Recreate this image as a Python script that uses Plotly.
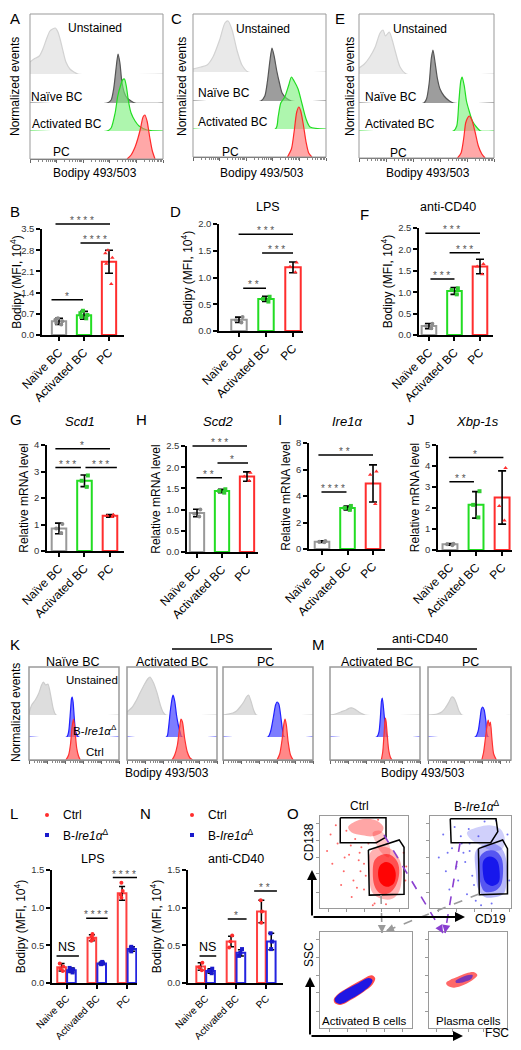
import math
import plotly.graph_objects as go

# The page body keeps its default 8 px margin, so the figure is sized to fit inside the window
# and every reference pixel position is converted with that offset.
OFF = 8
W, H = 521 - 2 * OFF, 1050 - 2 * OFF
FONT = "Liberation Sans, Arial, sans-serif"

CATS = ["Naïve BC", "Activated BC", "PC"]
CATS_LN = ["Naive BC", "Activated BC", "PC"]

# ---------------- A / C / E : flow histograms (x = log10 Bodipy, y = normalized events) -------------
A_UNST = ([0, 0.15, 0.35, 0.5, 0.62, 0.75, 0.85, 0.95, 1.05, 1.15, 1.25, 1.35, 1.5, 1.65, 1.8, 5],
          [12, 15, 18, 26, 35, 43, 45, 46, 42, 33, 22, 12, 5, 2, 0, 0])
A_NAIVE = ([0, 2.9, 3.05, 3.15, 3.25, 3.31, 3.38, 3.45, 3.55, 3.65, 3.8, 3.95, 5],
           [0, 0, 3, 15, 38, 49, 40, 22, 10, 5, 2, 0, 0])
A_ACT = ([0, 2.9, 3.05, 3.2, 3.3, 3.4, 3.48, 3.55, 3.62, 3.7, 3.8, 3.95, 4.1, 4.4, 5],
         [0, 0, 3, 18, 35, 45, 51, 52, 45, 30, 18, 10, 5, 1, 0])
A_PC = ([3.65, 3.8, 3.95, 4.05, 4.15, 4.25, 4.32, 4.4, 4.5, 4.6, 4.7],
        [0, 4, 12, 20, 30, 42, 44, 38, 22, 8, 0])

C_UNST = ([0, 0.3, 0.53, 0.75, 1.0, 1.2, 1.32, 1.47, 1.65, 1.84, 2.07, 5],
          [3, 5, 7, 15, 32, 49, 51, 42, 22, 7, 0, 0])
C_NAIVE = ([0, 2.55, 2.7, 2.8, 2.9, 2.97, 3.05, 3.15, 3.25, 3.35, 3.5, 3.7, 5],
           [0, 0, 5, 20, 42, 53, 45, 30, 18, 8, 3, 0, 0])
C_ACT = ([0, 3.1, 3.2, 3.3, 3.45, 3.6, 3.7, 3.8, 3.95, 4.1, 4.25, 4.4, 5],
         [0, 0, 12, 26, 32, 44, 52, 48, 40, 25, 10, 2, 0])
C_PC = ([3.55, 3.7, 3.8, 3.9, 3.98, 4.05, 4.15, 4.25, 4.35, 4.47],
        [0, 8, 25, 45, 50, 46, 32, 15, 4, 0])

E_UNST = ([0, 0.2, 0.4, 0.6, 0.78, 0.89, 0.98, 1.12, 1.22, 1.33, 1.52, 1.75, 5],
          [6, 10, 17, 27, 41, 44, 38, 42, 35, 24, 7, 0, 0])
E_NAIVE = ([0, 2.4, 2.5, 2.6, 2.68, 2.74, 2.82, 2.9, 3.0, 3.15, 3.35, 3.5, 5],
           [0, 0, 4, 20, 45, 53, 40, 25, 14, 7, 2, 0, 0])
E_ACT = ([0, 3.5, 3.62, 3.7, 3.77, 3.82, 3.9, 3.98, 4.08, 4.2, 4.35, 4.5, 5],
         [0, 0, 5, 30, 50, 54, 45, 30, 20, 10, 4, 0, 0])
E_PC = ([3.65, 3.78, 3.88, 3.95, 4.02, 4.08, 4.18, 4.3, 4.42, 4.55, 4.67],
        [0, 5, 20, 35, 40, 42, 38, 26, 12, 4, 0])

# ---------------- K / M : histograms Unstained, B-Ire1a KO, Ctrl -------------
K_NAIVE_UNST = ([0, 0.15, 0.35, 0.55, 0.7, 0.8, 0.92, 1.05, 1.2, 1.35, 1.5, 5],
                [2, 10, 15, 22, 30, 33, 30, 31, 20, 6, 0, 0])
K_NAIVE_KO = ([0, 2.1, 2.2, 2.3, 2.36, 2.4, 2.45, 2.52, 2.6, 2.75, 5],
              [0, 0, 5, 25, 38, 40, 35, 18, 5, 0, 0])
K_NAIVE_CTRL = ([2.05, 2.2, 2.3, 2.4, 2.47, 2.55, 2.65, 2.75, 2.85],
                [0, 5, 15, 34, 41, 30, 12, 4, 0])
K_LACT_UNST = ([0, 0.3, 0.5, 0.72, 0.95, 1.15, 1.28, 1.45, 1.67, 1.85, 2.0, 2.15, 5],
               [3, 8, 14, 22, 30, 36, 38, 33, 22, 10, 3, 0, 0])
K_LACT_KO = ([0, 2.2, 2.3, 2.4, 2.5, 2.56, 2.65, 2.75, 2.85, 2.95, 3.05, 5],
             [0, 0, 8, 25, 38, 42, 36, 22, 12, 5, 0, 0])
K_LACT_CTRL = ([2.5, 2.65, 2.8, 2.92, 3.0, 3.08, 3.2, 3.35, 3.5, 3.65],
               [0, 5, 15, 32, 41, 38, 22, 8, 2, 0])
K_LPC_UNST = ([0, 0.55, 0.75, 0.95, 1.15, 1.3, 1.42, 1.55, 1.7, 1.85, 5],
              [0, 2, 4, 8, 13, 18, 20, 14, 5, 0, 0])
K_LPC_KO = ([0, 2.5, 2.65, 2.8, 2.92, 3.0, 3.1, 3.2, 3.3, 3.4, 5],
            [0, 0, 6, 20, 32, 35, 33, 22, 8, 0, 0])
K_LPC_CTRL = ([3.0, 3.15, 3.28, 3.38, 3.45, 3.52, 3.62, 3.75, 3.9],
              [0, 6, 20, 36, 41, 35, 18, 5, 0])
M_ACT_UNST = ([0, 0.3, 0.6, 0.9, 1.1, 1.25, 1.45, 1.7, 1.95, 5],
              [0, 1, 3, 5, 7, 7, 5, 2, 0, 0])
M_ACT_KO = ([0, 2.6, 2.72, 2.8, 2.86, 2.9, 2.95, 3.02, 3.1, 3.2, 5],
            [0, 0, 5, 20, 36, 39, 33, 20, 8, 0, 0])
M_ACT_CTRL = ([2.85, 2.93, 3.0, 3.05, 3.08, 3.12, 3.18, 3.26, 3.35, 3.45],
              [0, 8, 25, 38, 42, 38, 25, 10, 3, 0])
M_PC_UNST = ([0, 0.5, 0.75, 0.95, 1.15, 1.3, 1.42, 1.55, 1.7, 1.85, 5],
             [0, 1, 3, 7, 13, 18, 17, 12, 4, 0, 0])
M_PC_KO = ([0, 2.6, 2.75, 2.85, 2.93, 3.0, 3.08, 3.18, 3.3, 5],
           [0, 0, 6, 18, 28, 30, 27, 15, 0, 0])
M_PC_CTRL = ([2.95, 3.05, 3.15, 3.25, 3.3, 3.36, 3.42, 3.5, 3.6, 3.75],
             [0, 8, 22, 36, 40, 34, 38, 22, 6, 0])

# ---------------- Bar panels: mean, SD, replicate points, significance -------------
B_MEAN = [0.45, 0.65, 2.42]
B_SD = [0.1, 0.13, 0.38]
B_PTS = [[0.35, 0.4, 0.45, 0.5, 0.55], [0.55, 0.6, 0.66, 0.72, 0.8], [1.68, 2.35, 2.55, 2.7, 2.8]]
B_SIG = [(-0.2, 2.04, 3.5, "* * * *", 5), (0.8, 2.04, 3.04, "* * * *"), (-0.36, 0.96, 1.16, "*")]

D_MEAN = [0.21, 0.6, 1.19]
D_SD = [0.05, 0.05, 0.1]
D_PTS = [[0.16, 0.2, 0.26], [0.55, 0.6, 0.64], [1.1, 1.2, 1.28]]
D_SIG = [(-0.07, 2.0, 1.81, "* * *"), (0.8, 2.0, 1.46, "* * *"), (0.1, 1.0, 0.8, "* *")]

F_MEAN = [0.21, 1.03, 1.6]
F_SD = [0.06, 0.08, 0.17]
F_PTS = [[0.16, 0.21, 0.26], [0.95, 1.05, 1.09], [1.42, 1.6, 1.66]]
F_SIG = [(-0.2, 2.0, 2.38, "* * *"), (0.75, 2.0, 1.92, "* * *"), (0.0, 1.0, 1.31, "* * *")]

G_MEAN = [0.85, 2.65, 1.33]
G_SD = [0.2, 0.22, 0.05]
G_PTS = [[0.68, 0.85, 1.02], [2.42, 2.65, 2.85], [1.28, 1.33, 1.37]]
G_SIG = [(-0.2, 2.0, 3.86, "*"), (-0.2, 0.86, 3.15, "* * *"), (0.98, 2.27, 3.15, "* * *")]

H_MEAN = [0.92, 1.44, 1.78]
H_SD = [0.09, 0.04, 0.11]
H_PTS = [[0.84, 0.9, 1.0], [1.4, 1.44, 1.48], [1.68, 1.78, 1.87]]
H_SIG = [(-0.24, 2.0, 2.5, "* * *"), (-0.08, 1.0, 1.75, "* *"), (0.76, 2.04, 2.1, "*")]

I_MEAN = [0.55, 3.1, 4.95]
I_SD = [0.06, 0.15, 1.4]
I_PTS = [[0.5, 0.55, 0.6], [2.95, 3.1, 3.25], [3.4, 5.6, 5.85]]
I_SIG = [(-0.2, 2.0, 7.1, "* *"), (-0.08, 0.96, 4.3, "* * * *")]

J_MEAN = [0.27, 2.15, 2.5]
J_SD = [0.04, 0.63, 1.27]
J_PTS = [[0.23, 0.27, 0.3], [1.55, 2.15, 2.8], [1.4, 2.1, 3.9]]
J_SIG = [(-0.1, 2.05, 4.4, "*"), (-0.08, 0.92, 3.25, "* *")]

L_CTRL_MEAN = [0.21, 0.6, 1.19]
L_CTRL_SD = [0.05, 0.04, 0.09]
L_KO_MEAN = [0.17, 0.26, 0.45]
L_KO_SD = [0.03, 0.015, 0.03]
L_CTRL_PTS = [[0.16, 0.19, 0.22, 0.26], [0.56, 0.58, 0.62, 0.65], [1.13, 1.17, 1.22, 1.33]]
L_KO_PTS = [[0.14, 0.16, 0.18, 0.2], [0.25, 0.26, 0.27, 0.28], [0.42, 0.44, 0.46, 0.48]]
L_SIG = [(-0.38, 0.41, 0.36, "NS"), (0.6, 1.36, 0.86, "* * * *"), (1.48, 2.33, 1.4, "* * * *")]

N_CTRL_MEAN = [0.22, 0.55, 0.95]
N_CTRL_SD = [0.05, 0.07, 0.15]
N_KO_MEAN = [0.16, 0.4, 0.55]
N_KO_SD = [0.03, 0.04, 0.11]
N_CTRL_PTS = [[0.17, 0.21, 0.27], [0.47, 0.55, 0.63], [0.8, 0.95, 1.1]]
N_KO_PTS = [[0.13, 0.16, 0.19], [0.36, 0.4, 0.45], [0.45, 0.55, 0.66]]
N_SIG = [(-0.25, 0.35, 0.36, "NS"), (0.68, 1.35, 0.85, "*"), (1.55, 2.35, 1.22, "* *")]

# ---------------- O : flow dot plots (relative 0-100 scales) -------------
O_CTRL_PC_X = [32, 40, 52, 64, 72, 70, 60, 48, 36]
O_CTRL_PC_Y = [88, 94, 97, 95, 88, 82, 78, 79, 82]
O_CTRL_STREAM_X = [60, 68, 76, 80, 78, 70, 62]
O_CTRL_STREAM_Y = [82, 84, 76, 62, 55, 60, 74]
O_CTRL_OUT_X = [57, 65, 76, 86, 92, 93, 90, 82, 70, 60, 56, 55]
O_CTRL_OUT_Y = [60, 66, 66, 60, 48, 35, 18, 10, 10, 16, 30, 48]
O_CTRL_MID_X = [62, 70, 80, 88, 90, 86, 78, 68, 62, 60]
O_CTRL_MID_Y = [52, 58, 58, 50, 38, 24, 16, 16, 24, 38]
O_CTRL_CORE_X = [68, 75, 82, 86, 84, 76, 69, 66]
O_CTRL_CORE_Y = [46, 50, 47, 38, 27, 23, 27, 36]
O_CTRL_SPARSE_X = [8, 14, 20, 27, 33, 38, 44, 47, 30, 40, 18, 50, 24, 36, 46, 12, 98, 60, 66,
                   55, 45, 52, 35, 28, 42, 50, 95, 97, 62, 75]
O_CTRL_SPARSE_Y = [62, 48, 70, 40, 58, 30, 52, 66, 84, 75, 90, 20, 25, 12, 40, 80, 45, 3, 96,
                   70, 60, 35, 68, 55, 22, 48, 60, 30, 5, 4]

O_KO_UP_X = [42, 55, 68, 80, 85, 82, 72, 58, 46]
O_KO_UP_Y = [82, 88, 90, 86, 75, 64, 62, 68, 75]
O_KO_OUT_X = [52, 60, 72, 82, 87, 87, 84, 75, 62, 55, 52]
O_KO_OUT_Y = [62, 68, 70, 64, 50, 30, 16, 12, 12, 20, 40]
O_KO_MID_X = [57, 64, 74, 81, 83, 80, 72, 62, 57, 56]
O_KO_MID_Y = [56, 62, 62, 55, 40, 24, 18, 18, 28, 44]
O_KO_CORE_X = [61, 68, 76, 79, 78, 71, 63, 60]
O_KO_CORE_Y = [52, 56, 52, 40, 28, 24, 28, 40]
O_KO_SPARSE_X = [10, 18, 25, 32, 40, 45, 22, 35, 48, 15, 28, 42, 38, 50, 90, 55, 62, 75, 88, 45,
                 30, 36, 44, 20, 52, 58, 70]
O_KO_SPARSE_Y = [55, 40, 65, 30, 50, 62, 20, 78, 35, 80, 88, 15, 60, 25, 30, 78, 94, 95, 80, 70,
                 45, 70, 86, 60, 8, 3, 5]

O_GATE_CTRL_PC_X = [23, 75, 75, 64, 23]
O_GATE_CTRL_PC_Y = [98, 98, 77, 71, 71]
O_GATE_CTRL_B_X = [55, 90, 95.5, 95.5, 56]
O_GATE_CTRL_B_Y = [63, 74, 66, 15, 14]
O_GATE_KO_PC_X = [23, 75, 77, 69, 24]
O_GATE_KO_PC_Y = [97, 97, 83, 71, 71]
O_GATE_KO_B_X = [55, 82.5, 88, 88, 56]
O_GATE_KO_B_Y = [64.5, 74, 64.5, 15.5, 14.5]

O_ACTB_RED_X = [16, 22, 35, 48, 57, 60, 56, 45, 30, 19, 15]
O_ACTB_RED_Y = [26, 24, 30, 38, 45, 52, 55, 50, 42, 35, 30]
O_ACTB_BLUE_X = [17, 22, 35, 47, 55, 57, 53, 42, 28, 19, 16]
O_ACTB_BLUE_Y = [27, 25, 31, 38, 45, 50, 52, 47, 40, 34, 30]
O_PLASMA_RED_X = [24, 32, 45, 56, 62, 58, 48, 36, 27, 22]
O_PLASMA_RED_Y = [44, 42, 45, 50, 55, 58, 57, 53, 50, 47]
O_PLASMA_BLUE_X = [35, 45, 54, 56, 49, 40, 34]
O_PLASMA_BLUE_Y = [47, 48, 51, 55, 55, 52, 49]

GRAY, GREEN, RED, BLUE = "#8c8c8c", "#22dd22", "#ff2d2d", "#1a1acc"

fig = go.Figure()
LAYOUT = {}
SHAPES = []
ANN = []
_n = [0]


def px(p):
    return (p - OFF) / W


def py(p):
    return 1 - (p - OFF) / H


def new_axes(x0, x1, y0, y1, xo=None, yo=None):
    _n[0] += 1
    n = _n[0]
    s = "" if n == 1 else str(n)
    xd = dict(domain=[max(0, px(x0)), min(1, px(x1))], anchor="y" + s, visible=False, showgrid=False,
              zeroline=False, automargin=False)
    yd = dict(domain=[max(0, py(y1)), min(1, py(y0))], anchor="x" + s, visible=False, showgrid=False,
              zeroline=False, automargin=False)
    if xo:
        xd.update(xo)
    if yo:
        yd.update(yo)
    LAYOUT["xaxis" + s] = xd
    LAYOUT["yaxis" + s] = yd
    return "x" + s, "y" + s


def text(x, y, s, size=11, color="black", xanchor="center", yanchor="middle", angle=0):
    ANN.append(dict(x=px(x), y=py(y), xref="paper", yref="paper", text=s, showarrow=False,
                    font=dict(size=size, color=color, family=FONT), xanchor=xanchor,
                    yanchor=yanchor, textangle=angle))


MAJOR = [0, 1, 2, 3, 4, 5]
MINOR = [d + math.log10(k) for d in range(5) for k in range(2, 10)]

HIST_STYLES = [("#d2d2d2", "rgba(228,228,228,0.8)"), ("#555555", "rgba(105,105,105,0.65)"),
               ("#22dd22", "rgba(120,240,120,0.6)"), ("#ff2a2a", "rgba(255,110,110,0.6)")]
K_STYLES = [("#cccccc", "rgba(215,215,215,0.85)"), ("#2020ff", "rgba(70,70,255,0.7)"),
            ("#ff3030", "rgba(255,90,90,0.72)")]


def hist_panel(x0, x1, top, baselines, lane_h, curves, styles, frame_color="#999999", frame_w=1, xmax=5):
    SHAPES.append(dict(type="rect", xref="paper", yref="paper", x0=px(x0), x1=px(x1),
                       y0=py(baselines[-1]), y1=py(top), line=dict(color=frame_color, width=frame_w)))
    last = len(curves) - 1
    for k, (curve, style) in enumerate(zip(curves, styles)):
        xo = dict(range=[0, xmax])
        if k == last:
            xo.update(visible=True, showline=True, linecolor="#666", linewidth=1, ticks="outside",
                      tickvals=MAJOR, ticklen=3, tickcolor="#666", showticklabels=False,
                      minor=dict(tickvals=MINOR, ticks="outside", ticklen=2, tickcolor="#888"))
        xa, ya = new_axes(x0, x1, baselines[k] - lane_h, baselines[k], xo, dict(range=[0, lane_h]))
        fig.add_trace(go.Scatter(x=curve[0], y=curve[1], mode="lines", xaxis=xa, yaxis=ya,
                                 line=dict(color=style[0], width=1.2, shape="spline", smoothing=0.7),
                                 fill="tozeroy", fillcolor=style[1], hoverinfo="skip", showlegend=False))


def sig(xa, ya, s):
    x0, x1, lev, lab = s[:4]
    shift = s[4] if len(s) > 4 else 0
    ANN.append(dict(xref=xa, yref=ya, axref=xa, ayref=ya, x=x1, y=lev, ax=x0, ay=lev, text="",
                    showarrow=True, arrowhead=0, arrowwidth=1.5, arrowcolor="black",
                    standoff=0, startstandoff=0, yshift=shift))
    if lab == "NS":
        ANN.append(dict(xref=xa, yref=ya, x=(x0 + x1) / 2, y=lev, text=lab, showarrow=False,
                        yanchor="bottom", yshift=shift, font=dict(size=12.5, color="black", family=FONT)))
    else:
        ANN.append(dict(xref=xa, yref=ya, x=(x0 + x1) / 2, y=lev, text=lab, showarrow=False,
                        yanchor="bottom", yshift=shift - 4, font=dict(size=10, color="#555", family=FONT)))


def bar_axes(x0, x1, y0, y1, cats, xr, yr, dtick, fmt, ytitle, xfont=12):
    xo = dict(visible=True, type="category", categoryorder="array", categoryarray=cats, range=xr,
              showline=True, linecolor="black", linewidth=1.5, ticks="outside", ticklen=4,
              tickwidth=1.5, tickcolor="black", tickangle=-45,
              tickfont=dict(size=xfont, color="black", family=FONT))
    yo = dict(visible=True, range=yr, tick0=0, dtick=dtick, tickformat=fmt, showline=True,
              linecolor="black", linewidth=1.5, ticks="outside", ticklen=4, tickwidth=1.5,
              tickcolor="black", tickfont=dict(size=9.5, color="#333", family=FONT),
              title=dict(text=ytitle, font=dict(size=12, color="black", family=FONT), standoff=3))
    return new_axes(x0, x1, y0, y1, xo, yo)


PT_COLORS = [GRAY, "#33cc33", RED]
PT_SYMBOLS = ["circle", "square", "triangle-up"]
BAR_COLORS = ["#999999", GREEN, RED]


def bar_panel(dom, xr, yr, dtick, fmt, means, sds, pts, sigs, ytitle):
    xa, ya = bar_axes(*dom, CATS, xr, yr, dtick, fmt, ytitle)
    fig.add_trace(go.Bar(x=CATS, y=means, xaxis=xa, yaxis=ya, showlegend=False, hoverinfo="skip",
                         marker=dict(color="white", line=dict(color=BAR_COLORS, width=2)),
                         error_y=dict(type="data", array=sds, color="black", thickness=1.6, width=4)))
    for c, v, col, sym in zip(CATS, pts, PT_COLORS, PT_SYMBOLS):
        fig.add_trace(go.Box(x=[c] * len(v), y=v, xaxis=xa, yaxis=ya, boxpoints="all", jitter=0.6,
                             pointpos=0, fillcolor="rgba(0,0,0,0)", offsetgroup="p",
                             line=dict(width=0, color="rgba(0,0,0,0)"), whiskerwidth=0,
                             marker=dict(color=col, size=4, symbol=sym), showlegend=False,
                             hoverinfo="skip"))
    for s in sigs:
        sig(xa, ya, s)
    return xa, ya


def group_panel(dom, xr, ctrl_m, ctrl_sd, ko_m, ko_sd, ctrl_pts, ko_pts, sigs):
    xa, ya = bar_axes(*dom, CATS_LN, xr, [0, 1.5], 0.5, ".1f", "Bodipy (MFI, 10<sup>4</sup>)", xfont=10)
    for m, sd, col, g in [(ctrl_m, ctrl_sd, "#ff4040", "ctrl"), (ko_m, ko_sd, "#2424e0", "ko")]:
        fig.add_trace(go.Bar(x=CATS_LN, y=m, xaxis=xa, yaxis=ya, offsetgroup=g, showlegend=False,
                             hoverinfo="skip",
                             marker=dict(color="white", line=dict(color=col, width=2)),
                             error_y=dict(type="data", array=sd, color="black", thickness=1.5, width=3)))
    for p, col, sym, g in [(ctrl_pts, RED, "circle", "ctrl"), (ko_pts, BLUE, "square", "ko")]:
        xs, ys = [], []
        for c, v in zip(CATS_LN, p):
            xs += [c] * len(v)
            ys += v
        fig.add_trace(go.Box(x=xs, y=ys, xaxis=xa, yaxis=ya, boxpoints="all", jitter=0.5, pointpos=0,
                             fillcolor="rgba(0,0,0,0)", offsetgroup=g, whiskerwidth=0,
                             line=dict(width=0, color="rgba(0,0,0,0)"),
                             marker=dict(color=col, size=4, symbol=sym), showlegend=False,
                             hoverinfo="skip"))
    for s in sigs:
        sig(xa, ya, s)


# ======================= Row 1: A C E =======================
hist_panel(30, 163, 14, [74, 103, 131, 159], 60, [A_UNST, A_NAIVE, A_ACT, A_PC], HIST_STYLES)
hist_panel(193, 326, 14, [72, 101, 129, 157], 60, [C_UNST, C_NAIVE, C_ACT, C_PC], HIST_STYLES)
hist_panel(359, 494, 14, [74, 103, 131, 158], 60, [E_UNST, E_NAIVE, E_ACT, E_PC], HIST_STYLES)

for lbls, ylab_x, bod_x in [
    ([(95, 28), (57, 97), (67, 124), (61, 152)], 15, 95),
    ([(263, 29), (224, 93), (233, 122), (230, 152)], 182, 262),
    ([(420, 29), (391, 97), (400, 124), (398, 153)], 350, 428),
]:
    for (x, y), s in zip(lbls, ["Unstained", "Naïve BC", "Activated BC", "PC"]):
        text(x, y, s, size=12)
    text(ylab_x, 87, "Normalized events", size=12, angle=-90)
    text(bod_x, 173, "Bodipy 493/503", size=12)

text(OFF, OFF, "A", size=15, xanchor="left", yanchor="top")
text(176, OFF, "C", size=15, yanchor="top")
text(340, OFF, "E", size=15, yanchor="top")

# ======================= Row 2: B D F =======================
bar_panel((42, 124, 229, 335), [-0.68, 2.6], [0, 3.5], 0.7, ".1f", B_MEAN, B_SD, B_PTS, B_SIG,
          "Bodipy (MFI, 10<sup>4</sup>)")
bar_panel((219, 303, 224, 331), [-0.74, 2.37], [0, 2.0], 0.5, ".1f", D_MEAN, D_SD, D_PTS, D_SIG,
          "Bodipy (MFI, 10<sup>4</sup>)")
bar_panel((419, 493, 228, 335), [-0.39, 2.51], [0, 2.5], 0.5, ".1f", F_MEAN, F_SD, F_PTS, F_SIG,
          "Bodipy (MFI, 10<sup>4</sup>)")
text(OFF, 212, "B", size=15, xanchor="left")
text(175, 212, "D", size=15)
text(364, 215, "F", size=15)
text(268, 207, "LPS", size=12.5)
text(448, 207, "anti-CD40", size=12.5)

# ======================= Row 3: G H I J =======================
bar_panel((47, 124, 445, 551), [-0.47, 2.55], [0, 4], 1, "d", G_MEAN, G_SD, G_PTS, G_SIG,
          "Relative mRNA level")
bar_panel((187, 258, 446, 552), [-0.4, 2.44], [0, 2.5], 0.5, ".1f", H_MEAN, H_SD, H_PTS, H_SIG,
          "Relative mRNA level")
bar_panel((309, 385, 443, 549), [-0.51, 2.47], [0, 8], 2, "d", I_MEAN, I_SD, I_PTS, I_SIG,
          "Relative mRNA level")
bar_panel((438, 512, 445, 550), [-0.46, 2.38], [0, 5], 1, "d", J_MEAN, J_SD, J_PTS, J_SIG,
          "Relative mRNA level")
text(OFF, 419, "G", size=15, xanchor="left")
text(141, 419, "H", size=15)
text(280, 419, "I", size=15)
text(411, 419, "J", size=15)
text(80, 422, "<i>Scd1</i>", size=13)
text(218, 422, "<i>Scd2</i>", size=13)
text(347, 422, "<i>Ire1α</i>", size=13)
text(477, 422, "<i>Xbp-1s</i>", size=13)

# ======================= Row 4: K / M =======================
KO_LABEL = "B-<i>Ire1α</i><sup>Δ</sup>"
for (x0, x1), curves, xmax in [
    ((29, 119), [K_NAIVE_UNST, K_NAIVE_KO, K_NAIVE_CTRL], 5),
    ((127, 217), [K_LACT_UNST, K_LACT_KO, K_LACT_CTRL], 5),
    ((223, 313), [K_LPC_UNST, K_LPC_KO, K_LPC_CTRL], 5),
    ((330, 420), [M_ACT_UNST, M_ACT_KO, M_ACT_CTRL], 5),
    ((428, 511), [M_PC_UNST, M_PC_KO, M_PC_CTRL], 4.55),
]:
    hist_panel(x0, x1, 667, [715, 737, 760], 48, curves, K_STYLES, frame_color="#9a9a9a", frame_w=1.5,
               xmax=xmax)

text(OFF, 644, "K", size=15, xanchor="left")
text(318, 644, "M", size=15)
text(222, 639, "LPS", size=12.5)
text(420, 639, "anti-CD40", size=12.5)
SHAPES.append(dict(type="line", xref="paper", yref="paper", x0=px(172), x1=px(272), y0=py(649), y1=py(649),
                   line=dict(color="black", width=1.5)))
SHAPES.append(dict(type="line", xref="paper", yref="paper", x0=px(377), x1=px(477), y0=py(649), y1=py(649),
                   line=dict(color="black", width=1.5)))
for x, s in [(73, "Naïve BC"), (172, "Activated BC"), (265, "PC"), (377, "Activated BC"), (470, "PC")]:
    text(x, 662, s, size=12.5)
text(92, 680, "Unstained", size=11.5)
text(95, 730, KO_LABEL, size=11.5)
text(95, 752, "Ctrl", size=11.5)
text(16, 713, "Normalized events", size=12, angle=-90)
text(167, 773, "Bodipy 493/503", size=12)
text(423, 773, "Bodipy 493/503", size=12)

# ======================= Row 5: L / N =======================
group_panel((52, 137, 870, 983), [-0.48, 2.33], L_CTRL_MEAN, L_CTRL_SD, L_KO_MEAN, L_KO_SD,
            L_CTRL_PTS, L_KO_PTS, L_SIG)
group_panel((188, 283, 870, 983), [-0.58, 2.55], N_CTRL_MEAN, N_CTRL_SD, N_KO_MEAN, N_KO_SD,
            N_CTRL_PTS, N_KO_PTS, N_SIG)
text(OFF, 813, "L", size=15, xanchor="left")
text(145, 813, "N", size=15)
text(93, 859, "LPS", size=12.5)
text(236, 859, "anti-CD40", size=12.5)
for lx in (47, 192):
    SHAPES.append(dict(type="circle", xref="paper", yref="paper", x0=px(lx - 2), x1=px(lx + 2),
                       y0=py(817), y1=py(813), fillcolor=RED, line=dict(width=0)))
    SHAPES.append(dict(type="rect", xref="paper", yref="paper", x0=px(lx - 2), x1=px(lx + 2),
                       y0=py(837), y1=py(833), fillcolor=BLUE, line=dict(width=0)))
    text(lx + 14, 815, "Ctrl", size=12, xanchor="left")
    text(lx + 14, 835, KO_LABEL, size=12, xanchor="left")


# ======================= O : dot plots =======================
def dot_axes(x0, x1, y0, y1, xmax=100):
    common = dict(visible=True, showline=True, mirror=True, linecolor="#9a9a9a",
                  linewidth=1, ticks="outside", ticklen=3, tickcolor="#9a9a9a",
                  showticklabels=False)
    xo = dict(common, range=[0, xmax], tickvals=[10, 30, 50, 70, 90])
    yo = dict(common, range=[0, 100], tickvals=[17, 37, 55, 73, 92])
    return new_axes(x0, x1, y0, y1, xo, yo)


def blob(xa, ya, xs, ys, color):
    fig.add_trace(go.Scatter(x=xs + xs[:1], y=ys + ys[:1], mode="lines", fill="toself", fillcolor=color,
                             line=dict(width=0, shape="spline", smoothing=1.0), xaxis=xa, yaxis=ya,
                             hoverinfo="skip", showlegend=False))


def gate(xa, ya, xs, ys):
    fig.add_trace(go.Scatter(x=xs + xs[:1], y=ys + ys[:1], mode="lines", line=dict(color="black", width=1.5),
                             xaxis=xa, yaxis=ya, hoverinfo="skip", showlegend=False))


for dom, xmax, rgb, parts, sparse, gates in [
    ((320, 408, 816, 908), 100, "255,0,0",
     [(O_CTRL_PC_X, O_CTRL_PC_Y, 0.35), (O_CTRL_STREAM_X, O_CTRL_STREAM_Y, 0.22),
      (O_CTRL_OUT_X, O_CTRL_OUT_Y, 0.3), (O_CTRL_MID_X, O_CTRL_MID_Y, 0.55),
      (O_CTRL_CORE_X, O_CTRL_CORE_Y, 0.95)],
     (O_CTRL_SPARSE_X, O_CTRL_SPARSE_Y),
     [(O_GATE_CTRL_PC_X, O_GATE_CTRL_PC_Y), (O_GATE_CTRL_B_X, O_GATE_CTRL_B_Y)]),
    ((430, 511, 816, 908), 92, "20,20,235",
     [(O_KO_UP_X, O_KO_UP_Y, 0.2), (O_KO_OUT_X, O_KO_OUT_Y, 0.3),
      (O_KO_MID_X, O_KO_MID_Y, 0.6), (O_KO_CORE_X, O_KO_CORE_Y, 0.95)],
     (O_KO_SPARSE_X, O_KO_SPARSE_Y),
     [(O_GATE_KO_PC_X, O_GATE_KO_PC_Y), (O_GATE_KO_B_X, O_GATE_KO_B_Y)]),
]:
    xa, ya = dot_axes(*dom, xmax=xmax)
    fig.add_trace(go.Scatter(x=sparse[0], y=sparse[1], mode="markers", xaxis=xa, yaxis=ya,
                             marker=dict(size=2, color="rgba(%s,0.6)" % rgb), hoverinfo="skip",
                             showlegend=False))
    for xs, ys, a in parts:
        blob(xa, ya, xs, ys, "rgba(%s,%s)" % (rgb, a))
    for gx, gy in gates:
        gate(xa, ya, gx, gy)

xa, ya = dot_axes(320, 412, 932, 1028)
blob(xa, ya, O_ACTB_RED_X, O_ACTB_RED_Y, "rgba(255,0,0,0.7)")
blob(xa, ya, O_ACTB_BLUE_X, O_ACTB_BLUE_Y, "rgba(20,20,235,0.95)")
xa, ya = dot_axes(429, 507, 932, 1028)
blob(xa, ya, O_PLASMA_RED_X, O_PLASMA_RED_Y, "rgba(255,40,40,0.7)")
blob(xa, ya, O_PLASMA_BLUE_X, O_PLASMA_BLUE_Y, "rgba(90,40,200,0.8)")

text(293, 813, "O", size=15)
text(359, 806, "Ctrl", size=12)
text(477, 806, KO_LABEL, size=12)
text(309, 842, "CD138", size=12, angle=-90)
text(490, 919, "CD19", size=12)
text(309, 955, "SSC", size=12, angle=-90)
text(497, 1033, "FSC", size=12)
text(364, 1021, "Activated B cells", size=11.5)
text(468, 1021, "Plasma cells", size=11.5)


def arrow(hx, hy, tx, ty, color, width=2):
    ANN.append(dict(x=px(hx), y=py(hy), xref="paper", yref="paper", ax=tx - hx, ay=ty - hy, text="",
                    showarrow=True, arrowhead=2, arrowsize=1, arrowwidth=width, arrowcolor=color))


arrow(312, 870, 312, 917, "black")
arrow(465, 917, 312, 917, "black")
arrow(310, 977, 310, 1036, "black")
arrow(463, 1036, 310, 1036, "black")


def dashed_arrow(tx, ty, hx, hy, color):
    SHAPES.append(dict(type="line", xref="paper", yref="paper", x0=px(tx), y0=py(ty), x1=px(hx), y1=py(hy),
                       line=dict(color=color, width=1.6, dash="dash")))
    d = math.hypot(hx - tx, hy - ty)
    arrow(hx, hy, hx - (hx - tx) * 8 / d, hy - (hy - ty) * 8 / d, color, width=1.6)


dashed_arrow(381, 895, 382, 933, "#9a9a9a")
dashed_arrow(479, 894, 386, 931, "#9a9a9a")
dashed_arrow(384, 835, 443, 933, "#8a3fd0")
dashed_arrow(460, 843, 445, 933, "#8a3fd0")

fig.update_layout(
    width=W, height=H, margin=dict(l=0, r=0, t=0, b=0, autoexpand=False),
    paper_bgcolor="white", plot_bgcolor="rgba(0,0,0,0)",
    font=dict(family=FONT, color="black"),
    barmode="group", bargap=0.35, bargroupgap=0.12,
    boxmode="group", boxgap=0.35, boxgroupgap=0.12,
    showlegend=False, shapes=SHAPES, annotations=ANN,
    **LAYOUT,
)

fig.write_html("out.html")
